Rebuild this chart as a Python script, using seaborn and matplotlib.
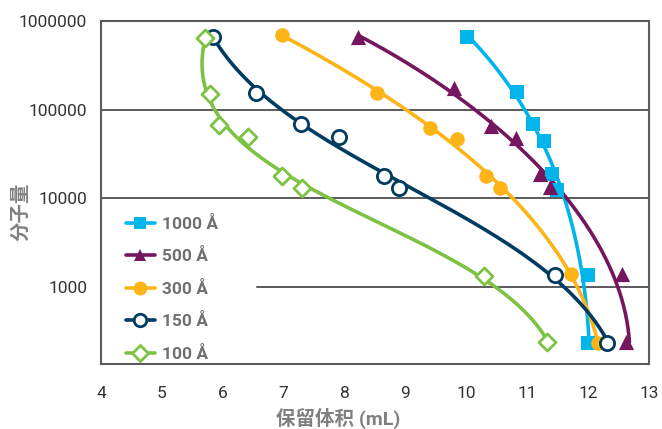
import numpy as np
import pandas as pd
import seaborn as sns
import matplotlib.pyplot as plt
from matplotlib.lines import Line2D

sns.set_theme(style="white")
plt.rcParams['font.family'] = ['Roboto', 'Noto Sans CJK SC', 'DejaVu Sans']

labels = ["1000 Å", "500 Å", "300 Å", "150 Å", "100 Å"]
colors = ["#00B4EC", "#75175F", "#FDB416", "#003B62", "#7DC242"]
markers = ["s", "^", "o", "o", "D"]
filled = [True, True, True, False, False]

vol_1000 = [10.01, 10.84, 11.10, 11.28, 11.40, 11.49, 11.99, 11.99]
mw_1000 = [665000, 157000, 68400, 44400, 18700, 12400, 1370, 232]
vol_500 = [8.22, 9.79, 10.41, 10.81, 11.21, 11.37, 12.55, 12.63]
mw_500 = [665000, 174000, 65500, 47600, 18700, 13200, 1400, 235]
vol_300 = [6.98, 8.53, 9.40, 9.84, 10.33, 10.56, 11.72, 12.16]
mw_300 = [695000, 153000, 61700, 46700, 18000, 13000, 1400, 232]
vol_150 = [5.84, 6.55, 7.28, 7.91, 8.64, 8.90, 11.46, 12.31]
mw_150 = [665000, 155000, 69000, 48800, 18000, 13000, 1370, 232]
vol_100 = [5.71, 5.79, 5.94, 6.42, 6.98, 7.30, 10.29, 11.33]
mw_100 = [640000, 150000, 67300, 48800, 18000, 13000, 1330, 235]

series = [(vol_1000, mw_1000), (vol_500, mw_500), (vol_300, mw_300),
          (vol_150, mw_150), (vol_100, mw_100)]

fig = plt.figure(figsize=(6.62, 4.29), dpi=100)
ax = fig.add_axes([101/662, 1 - 364/429, 548/662, 343/429])

grid_c = "#5a5a5a"


def smooth_fit(v, m, deg=3, n=200):
    # parametric least-squares trend (x(t), log y(t)) along chord length
    xs = (v - 4) / 9.0
    ys = np.log10(m) / 3.87
    d = np.sqrt(np.diff(xs) ** 2 + np.diff(ys) ** 2)
    t = np.concatenate([[0], np.cumsum(d)])
    t = t / t[-1]
    cx = np.polyfit(t, v, deg)
    cy = np.polyfit(t, np.log10(m), deg)
    tt = np.linspace(0, 1, n)
    return np.polyval(cx, tt), 10 ** np.polyval(cy, tt)


for i, (v, m) in enumerate(series):
    v = np.array(v, float); m = np.array(m, float)
    fx, fy = smooth_fit(v, m)
    fit = pd.DataFrame({"x": fx, "y": fy})
    sns.lineplot(data=fit, x="x", y="y", ax=ax, color=colors[i], lw=2.6,
                 sort=False, estimator=None, zorder=3)
    df = pd.DataFrame({"x": v, "y": m})
    if filled[i]:
        sns.scatterplot(data=df, x="x", y="y", ax=ax, marker=markers[i],
                        s=110 if markers[i] != "^" else 120, color=colors[i],
                        edgecolor=colors[i], linewidth=0, zorder=4)
    else:
        sns.scatterplot(data=df, x="x", y="y", ax=ax, marker=markers[i],
                        s=105 if markers[i] == "o" else 75, facecolor="white",
                        edgecolor=colors[i], linewidth=2.0, zorder=4)

ax.set_yscale("log")
ax.set_ylim(10 ** 2.127, 1e6)
ax.set_xlim(4, 13)
ax.set_xticks(range(4, 14))
ax.set_yticks([1000, 10000, 100000, 1000000])
ax.set_yticklabels(["1000", "10000", "100000", "1000000"])
ax.minorticks_off()
ax.tick_params(axis="both", length=0, labelsize=12.5, labelcolor="#333333")
ax.tick_params(axis="x", pad=16)
ax.tick_params(axis="y", pad=10)

for yv, xmin in [(1e4, 0), (1e5, 0), (1e3, (257 - 101) / 548)]:
    ax.axhline(yv, xmin=xmin, xmax=1, color=grid_c, lw=1.4, zorder=1)

for s in ["left", "bottom", "right", "top"]:
    ax.spines[s].set_color(grid_c)
    ax.spines[s].set_linewidth(1.5)

ax.set_xlabel("保留体积 (mL)", fontsize=14, color="#808080", fontweight="bold")
ax.set_ylabel("分子量", fontsize=14, color="#808080", fontweight="bold")
ax.xaxis.label.set_va("center")
ax.yaxis.label.set_va("center")
ax.yaxis.label.set_ha("center")
ax.xaxis.set_label_coords((338 - 101) / 548, -(418 - 364) / 343)
ax.yaxis.set_label_coords(-(101 - 21) / 548, (364 - 212) / 343)

handles = []
for i in range(5):
    if filled[i]:
        h = Line2D([], [], color=colors[i], lw=2.6, marker=markers[i],
                   markersize=9 if markers[i] != "o" else 10,
                   markerfacecolor=colors[i], markeredgewidth=0)
    else:
        h = Line2D([], [], color=colors[i], lw=2.6, marker=markers[i],
                   markersize=9 if markers[i] == "o" else 8,
                   markerfacecolor="white", markeredgecolor=colors[i],
                   markeredgewidth=2.0)
    handles.append(h)
leg = ax.legend(handles, labels, loc="upper left",
                bbox_to_anchor=((119 - 101) / 548, (364 - 209) / 343),
                frameon=False, handlelength=1.65, handletextpad=0.45,
                labelspacing=0.95, borderaxespad=0,
                prop={"size": 12.5, "weight": "bold"})
for t in leg.get_texts():
    t.set_color("#707070")

sns.despine(ax=ax, top=False, right=False)
fig.savefig("out.png", dpi=100)
